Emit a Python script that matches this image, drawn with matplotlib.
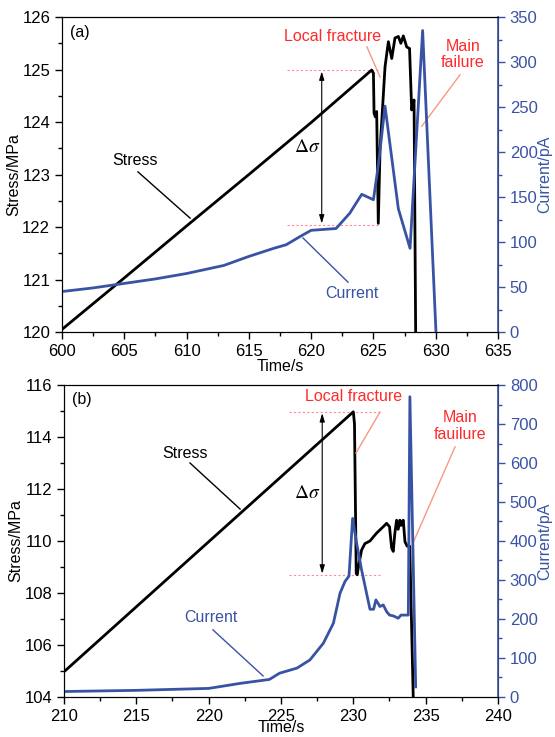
import matplotlib
matplotlib.use("Agg")
import matplotlib.pyplot as plt
from matplotlib.ticker import MultipleLocator

plt.rcParams['font.family'] = ['Liberation Sans', 'DejaVu Sans']
plt.rcParams['mathtext.fontset'] = 'stix'

BLUE = '#3953a4'
RED = '#ff2a2a'
SALMON = '#f59a80'
PINK = '#ff8a9a'

# (a) stress and current versus time
t_a_stress = [600, 605, 610, 615, 620, 624.86, 625.0, 625.05, 625.15, 625.26, 625.39,
              625.53, 625.93, 626.2, 626.47, 626.73, 627.0, 627.2, 627.4, 627.67,
              627.9, 628.07, 628.26, 628.39, 628.45]
stress_a = [120.05, 121.03, 122.02, 123.0, 123.99, 124.99, 124.93, 124.17, 124.1, 124.2, 122.07,
            123.47, 125.05, 125.53, 125.21, 125.6, 125.63, 125.5, 125.64, 125.43,
            125.4, 124.23, 124.42, 120.0, 119.0]

t_a_cur = [600, 602.5, 605, 607.5, 610, 613, 615, 617, 618, 619.1, 620, 622, 623.1,
           624.06, 625, 625.4, 625.93, 627, 627.94, 628.95, 630.02]
cur_a = [45, 49, 54, 59, 65, 74, 84, 93, 97, 106, 113, 115, 132,
         153, 147, 186, 251, 137, 93, 335, 0]

# (b) stress and current versus time
t_b_stress = [210, 215, 220, 225, 230.0, 230.08, 230.2, 230.27, 230.35, 230.57, 230.8,
              231.15, 231.6, 232.07, 232.3, 232.5, 232.65, 232.76, 232.87, 232.99,
              233.1, 233.22, 233.3, 233.45, 233.57, 233.72, 233.9, 234.14, 234.2]
stress_b = [104.97, 107.47, 109.97, 112.47, 114.97, 114.5, 108.75, 108.7, 109.0, 109.65, 109.9,
            110.0, 110.3, 110.55, 110.68, 110.55, 109.72, 109.6, 110.3, 110.8,
            110.45, 110.8, 110.6, 110.8, 109.97, 109.8, 109.8, 104.0, 103.5]

t_b_cur = [210, 215, 220, 222.2, 224.2, 224.9, 226.1, 227, 227.93, 228.62, 229.08,
           229.42, 229.7, 229.95, 230.23, 230.57, 231.15, 231.4, 231.56, 231.84,
           232.07, 232.3, 232.5, 232.76, 233.1, 233.3, 233.8, 233.91, 234.31]
cur_b = [14, 17, 22, 35, 45, 61, 74, 95, 138, 189, 266,
         296, 310, 458, 394, 326, 225, 225, 249, 232,
         236, 219, 210, 208, 202, 210, 210, 770, 26]

# stress drop at the local fracture: (t0, t1) of the guides, arrow time, high, low
drop_a = (618.04, 625.53, 620.85, 124.99, 122.04)
drop_b = (225.54, 231.85, 227.85, 114.97, 108.69)


def panel(rect, t_s, s, t_c, c, xlim, ylim, y2lim, xstep, ystep, y2step, tag, xpad):
    ax = fig.add_axes(rect)
    ax.plot(t_s, s, color='black', lw=2)
    ax.set_xlim(*xlim)
    ax.set_ylim(*ylim)
    ax.xaxis.set_major_locator(MultipleLocator(xstep))
    ax.xaxis.set_minor_locator(MultipleLocator(xstep / 2))
    ax.yaxis.set_major_locator(MultipleLocator(ystep))
    ax.yaxis.set_minor_locator(MultipleLocator(ystep / 2))
    ax.tick_params(which='major', direction='out', length=5, width=1, labelsize=12)
    ax.tick_params(which='minor', direction='out', length=3, width=1)
    ax.set_ylabel('Stress/MPa', fontsize=11.5, labelpad=1)
    ax.set_xlabel('Time/s', fontsize=11.5, labelpad=xpad)
    ax.text(0.018, 0.952, tag, transform=ax.transAxes, fontsize=11.5, va='center')

    ax2 = ax.twinx()
    ax2.plot(t_c, c, color=BLUE, lw=2)
    ax2.set_ylim(*y2lim)
    ax2.yaxis.set_major_locator(MultipleLocator(y2step))
    ax2.yaxis.set_minor_locator(MultipleLocator(y2step / 2))
    ax2.tick_params(which='major', direction='out', length=5, width=1, labelsize=12,
                    colors=BLUE)
    ax2.tick_params(which='minor', direction='out', length=3, width=1, colors=BLUE)
    ax2.spines['right'].set_color(BLUE)
    ax2.spines['right'].set_linewidth(1.2)
    ax2.set_ylabel('Current/pA', fontsize=11.5, color=BLUE, labelpad=0)
    return ax, ax2


def leader(ax, text, pos, start, end, color, lcolor):
    ax.text(*pos, text, color=color, fontsize=11.5, ha='center', va='center',
            linespacing=1.1, zorder=5)
    ax.plot([start[0], end[0]], [start[1], end[1]], color=lcolor, lw=1, zorder=4)


def delta(ax, drop, label_pos):
    t0, t1, ta, hi, lo = drop
    for v in (hi, lo):
        ax.plot([t0, t1], [v, v], ls=(0, (2, 2)), color=PINK, lw=0.8, zorder=1)
    ax.annotate('', xy=(ta, lo), xytext=(ta, hi),
                arrowprops=dict(arrowstyle='<|-|>,head_length=0.5,head_width=0.15',
                                color='black', lw=0.8, shrinkA=1, shrinkB=1))
    ax.text(*label_pos, r'$\Delta\sigma$', fontsize=14, ha='center', va='center')


fig = plt.figure(figsize=(5.55, 7.37), dpi=100)

ax_a, ax_a2 = panel([0.1117, 0.5495, 0.7856, 0.4274], t_a_stress, stress_a, t_a_cur, cur_a,
                    (600, 635), (120, 126), (0, 350), 5, 1, 50, '(a)', 0)
ax_b, ax_b2 = panel([0.1153, 0.0543, 0.7820, 0.4233], t_b_stress, stress_b, t_b_cur, cur_b,
                    (210, 240), (104, 116), (0, 800), 5, 2, 100, '(b)', -2.5)

# labels of (a), placed in stress coordinates
delta(ax_a, drop_a, (619.71, 123.51))
leader(ax_a, 'Stress', (605.86, 123.26), (606.1, 123.05), (610.28, 122.17), 'black', 'black')
leader(ax_a, 'Current', (623.28, 120.74), (622.96, 120.95), (619.35, 121.79), BLUE, BLUE)
leader(ax_a, 'Local fracture', (621.75, 125.62), (624.48, 125.43), (625.53, 124.86),
       RED, SALMON)
leader(ax_a, 'Main\nfailure', (632.19, 125.28), (631.95, 124.9), (628.88, 123.92),
       RED, SALMON)

# labels of (b)
delta(ax_b, drop_b, (226.83, 111.81))
leader(ax_b, 'Stress', (218.36, 113.38), (218.71, 113.0), (222.17, 111.23), 'black', 'black')
leader(ax_b, 'Current', (220.16, 107.04), (220.3, 106.58), (223.76, 104.81), BLUE, BLUE)
leader(ax_b, 'Local fracture', (230.05, 115.54), (231.84, 114.96), (230.18, 113.38),
       RED, SALMON)
leader(ax_b, 'Main\nfauilure', (237.37, 114.42), (237.03, 113.62), (234.12, 109.92),
       RED, SALMON)

fig.savefig('out.png', dpi=100)
